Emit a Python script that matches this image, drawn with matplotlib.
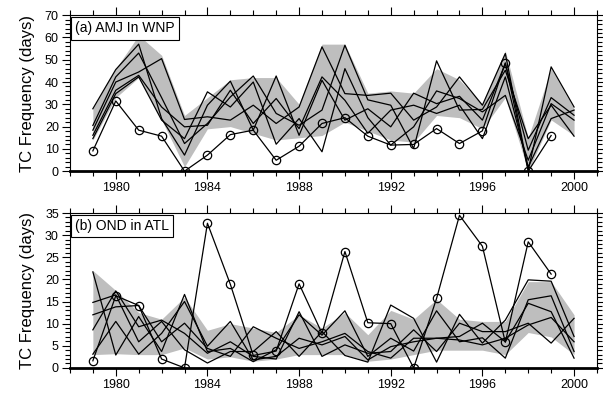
import matplotlib
matplotlib.use('Agg')
import matplotlib.pyplot as plt
import numpy as np
from matplotlib.ticker import MultipleLocator

plt.rcParams['font.family'] = ['Liberation Sans', 'DejaVu Sans']

years = np.arange(1979, 2001)

# (a) AMJ in WNP
obs_a = [9.1, 31.5, 18.4, 15.7, 0, 7.2, 16.4, 18.4, 4.9, 11.2, 21.4,
         24.0, 15.7, 11.7, 12.0, 19.1, 12.4, 18.1, 48.6, 0, 16.0, np.nan]
ens_a = [
    [28, 45.6, 57, 23.6, 7.2, 29.6, 40.4, 18.4, 42.7, 16.1, 40.8,
     22.9, 28, 19.9, 35, 30.3, 33.6, 22.9, 48.3, 9.4, 33, 25.1],
    [18.4, 40, 44.5, 50.5, 23.2, 24.4, 22.9, 29.6, 21.4, 28.8, 55.8,
     34.8, 34, 35, 22.9, 28.8, 42.3, 29.6, 52.8, 0.4, 46.8, 28.8],
    [20.5, 42.3, 53, 33, 12.4, 21.4, 33.3, 42.7, 25.9, 20.6, 27.4,
     56.5, 32, 29.6, 10.2, 49.5, 27.4, 27.7, 45.3, 14.6, 29.6, 15.7],
    [16.1, 36.3, 43, 28.8, 19.9, 20.6, 36.3, 21.4, 32.6, 19.1, 42.3,
     31.8, 17, 27.4, 29.6, 25.9, 29.6, 14.6, 42.3, 1.9, 23.6, 27.4],
    [14.6, 34.8, 42.3, 22.9, 14.6, 35.6, 28.8, 40, 12.1, 23.6, 8.7,
     46, 24, 11.7, 19.9, 36, 32.6, 26.6, 34, 4.9, 30.3, 22.9],
]
band_a_hi = [28, 46, 61, 52, 25, 33, 41, 42, 42, 30, 57,
             57, 35, 36, 35, 46, 41, 30, 54, 15, 46, 28]
band_a_lo = [14, 33, 42, 23, 2, 19, 20, 17, 14, 15, 16,
             22, 18, 14, 13, 25, 24, 19, 33, 0, 23, 16]

# (b) OND in ATL
obs_b = [1.6, 16.3, 14.1, 2.0, 0, 32.7, 18.9, 2.8, 3.8, 19.0, 7.8,
         26.3, 10.2, 10.0, 0, 15.7, 34.5, 27.5, 5.8, 28.5, 21.2, np.nan]
ens_b = [
    [21.7, 2.9, 11.6, 3.7, 16.6, 3.7, 4.4, 1.4, 4.1, 12, 7.4,
     12.9, 2.6, 6.7, 3.8, 12.9, 5.9, 6.8, 2.2, 15.4, 16.3, 3.7],
    [14.8, 16.5, 5.9, 10.5, 4.1, 1.1, 3.7, 3.7, 8.2, 2.6, 8.2,
     2.8, 1.3, 14.2, 11.2, 1.3, 12.1, 5.6, 10.8, 19.9, 19.6, 7.1],
    [12, 13.8, 14.1, 5.9, 10.1, 4.4, 2.6, 9.3, 6.7, 4.4, 5.9,
     7.8, 3.7, 2.2, 6.7, 6.7, 7.1, 10.1, 5.9, 14.6, 12.7, 2.2],
    [8.6, 17.4, 9.3, 10.8, 7.8, 3.3, 5.9, 2.6, 2.0, 12.7, 2.6,
     5.2, 3.3, 3.7, 8.6, 3.7, 10.1, 8.2, 8.2, 10.1, 5.6, 11.2],
    [3.1, 10.5, 3.1, 7.8, 15, 4.9, 10.5, 1.8, 2.6, 6.7, 5.2,
     7.1, 1.8, 4.8, 5.9, 6.7, 6.3, 5.2, 6.7, 9.7, 11.4, 5.9],
]
band_b_hi = [22, 17.5, 12.5, 11, 16, 8.5, 10, 9, 8, 12, 9,
             12.5, 7.5, 13, 11, 15.5, 11, 10.5, 10.5, 19.5, 19.5, 12]
band_b_lo = [3, 3.2, 3, 3, 4.5, 2, 2.5, 1.5, 2, 3, 3,
             3, 1.5, 2, 3, 4, 4, 4, 3, 8, 7, 3]

panels = [
    ('(a) AMJ In WNP', obs_a, ens_a, band_a_lo, band_a_hi, 70, 10, 2),
    ('(b) OND in ATL', obs_b, ens_b, band_b_lo, band_b_hi, 35, 5, 1),
]

fig = plt.figure(figsize=(6.03, 3.99), dpi=100)
axes = [fig.add_axes([0.116, 0.571, 0.874, 0.391]),
        fig.add_axes([0.116, 0.078, 0.874, 0.388])]

for ax, (title, obs, ens, lo, hi, ymax, ymaj, ymin) in zip(axes, panels):
    ax.fill_between(years, lo, hi, color='#bebebe', lw=0, zorder=1)
    for member in ens:
        ax.plot(years, member, color='black', lw=0.9, zorder=2)
    ax.plot(years, obs, color='black', lw=0.9, marker='o', ms=6,
            mfc='none', mec='black', mew=0.9, zorder=3)

    ax.set_xlim(1978, 2001)
    ax.set_ylim(0, ymax)
    ax.xaxis.set_minor_locator(MultipleLocator(1))
    ax.yaxis.set_major_locator(MultipleLocator(ymaj))
    ax.yaxis.set_minor_locator(MultipleLocator(ymin))
    ax.set_xticks([1980, 1984, 1988, 1992, 1996, 2000])
    ax.tick_params(which='both', direction='out', top=True, right=True,
                   labelsize=9, width=0.8)
    ax.tick_params(which='major', length=6, pad=2)
    ax.tick_params(which='minor', length=3.5)
    for side in ['top', 'left', 'right']:
        ax.spines[side].set_linewidth(0.8)
    ax.spines['bottom'].set_linewidth(2)
    ax.set_ylabel('TC Frequency (days)', fontsize=12, labelpad=7)
    ax.text(0.01, 0.96, title, transform=ax.transAxes, fontsize=10,
            ha='left', va='top', zorder=5,
            bbox=dict(boxstyle='square,pad=0.3', fc='white', ec='black', lw=0.8))

fig.savefig('out.png', dpi=100)
